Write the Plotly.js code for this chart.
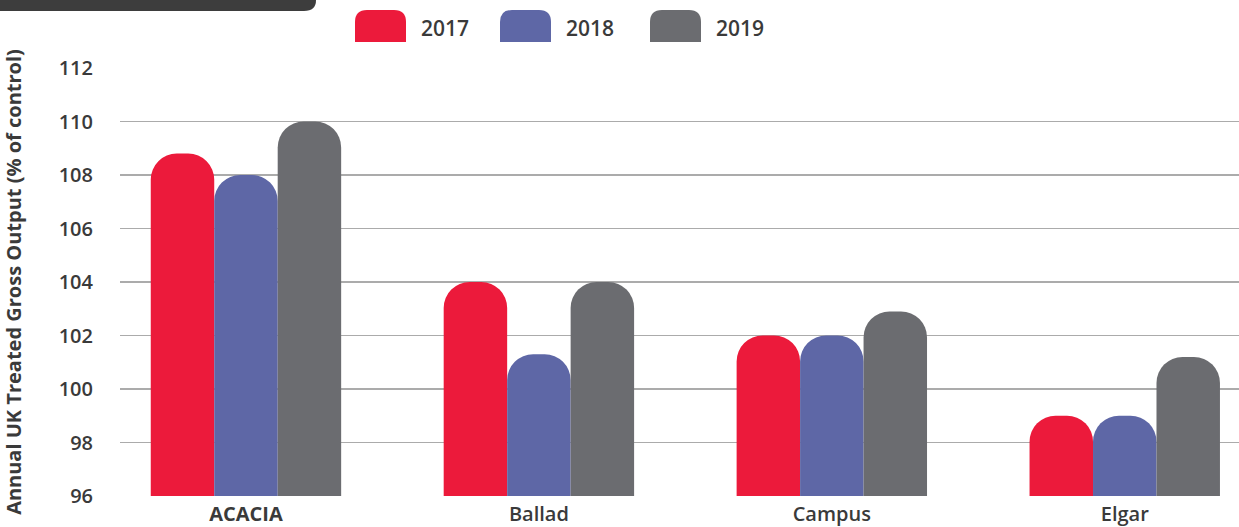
<!DOCTYPE html>
<html><head><meta charset="utf-8">
<script src="https://cdn.plot.ly/plotly-3.0.1.min.js"></script>
<style>html,body{margin:0;padding:0;background:#fff;}#chart{width:1239px;height:527px;}</style>
</head><body><div id="chart"></div>
<script>
const categories = ['ACACIA', 'Ballad', 'Campus', 'Elgar'];
const categoryLabels = ['<b>ACACIA</b>', 'Ballad', 'Campus', 'Elgar'];
const seriesNames = ['2017', '2018', '2019'];
const values2017 = [108.8, 104.0, 102.0, 99.0];
const values2018 = [108.0, 101.3, 102.0, 99.0];
const values2019 = [110.0, 104.0, 102.9, 101.2];
const yTicks = [96, 98, 100, 102, 104, 106, 108, 110, 112];

const colors = ['#ec1a3b', '#5e67a6', '#6b6c70'];
const seriesValues = [values2017, values2018, values2019];

const W = 1239, H = 527;
const L = 120, R = 0, T = 68, B = 31;
const pw = W - L - R, ph = H - T - B;
const px = x => (x - L) / pw;
const py = y => (H - B - y) / ph;

const traces = seriesNames.map((n, i) => ({
  type: 'bar', name: n, x: categories, y: seriesValues[i],
  marker: {color: colors[i], line: {width: 0}},
  hoverinfo: 'x+y+name'
}));

const legendX = [355, 500, 650];
const shapes = [];
const annotations = [];
function roundTop(x0, y0, x1, y1, r) {
  return `M${px(x0)},${py(y1)} L${px(x0)},${py(y0 + r)} Q${px(x0)},${py(y0)} ${px(x0 + r)},${py(y0)} L${px(x1 - r)},${py(y0)} Q${px(x1)},${py(y0)} ${px(x1)},${py(y0 + r)} L${px(x1)},${py(y1)} Z`;
}
seriesNames.forEach((n, i) => {
  const x0 = legendX[i];
  shapes.push({type: 'path', xref: 'paper', yref: 'paper', path: roundTop(x0, 10, x0 + 51, 42, 12), fillcolor: colors[i], line: {width: 0}});
  annotations.push({xref: 'paper', yref: 'paper', x: px(x0 + 64), y: py(28), xanchor: 'left', yanchor: 'middle', showarrow: false, text: n, font: {family: 'Open Sans', size: 21, weight: 600, color: '#3a3a3a'}});
});
shapes.push({type: 'path', xref: 'paper', yref: 'paper',
  path: `M${px(0)},${py(-2)} L${px(316)},${py(-2)} L${px(316)},${py(0)} Q${px(316)},${py(11)} ${px(304)},${py(11)} L${px(0)},${py(11)} Z`,
  fillcolor: '#3d3d3d', line: {width: 0}, layer: 'above'});

const layout = {
  width: W, height: H,
  margin: {l: L, r: R, t: T, b: B, pad: 0},
  paper_bgcolor: '#fff', plot_bgcolor: '#fff',
  barmode: 'group', bargap: 0.35, bargroupgap: 0, barcornerradius: 26,
  showlegend: false,
  font: {family: 'Open Sans', color: '#3a3a3a'},
  xaxis: {
    type: 'category', range: [-0.43, 3.39],
    tickvals: categories, ticktext: categoryLabels,
    tickfont: {family: 'Open Sans', size: 20, weight: 600, color: '#3a3a3a'},
    ticklabelstandoff: 4,
    showgrid: false, zeroline: false, showline: false, ticks: '', fixedrange: true, automargin: false
  },
  yaxis: {
    range: [96, 112], tickvals: yTicks,
    tickfont: {family: 'Open Sans', size: 20, weight: 600, color: '#3a3a3a'},
    ticklabelstandoff: 26,
    showgrid: true, gridcolor: '#ababab', gridwidth: 1.5,
    zeroline: false, showline: false, ticks: '', automargin: false,
    title: {text: 'Annual UK Treated Gross Output (% of control)', font: {family: 'Open Sans', size: 20, weight: 700, color: '#3a3a3a'}, standoff: 31}
  },
  shapes: shapes, annotations: annotations
};
Plotly.newPlot('chart', traces, layout, {displayModeBar: false, staticPlot: true});
</script></body></html>
